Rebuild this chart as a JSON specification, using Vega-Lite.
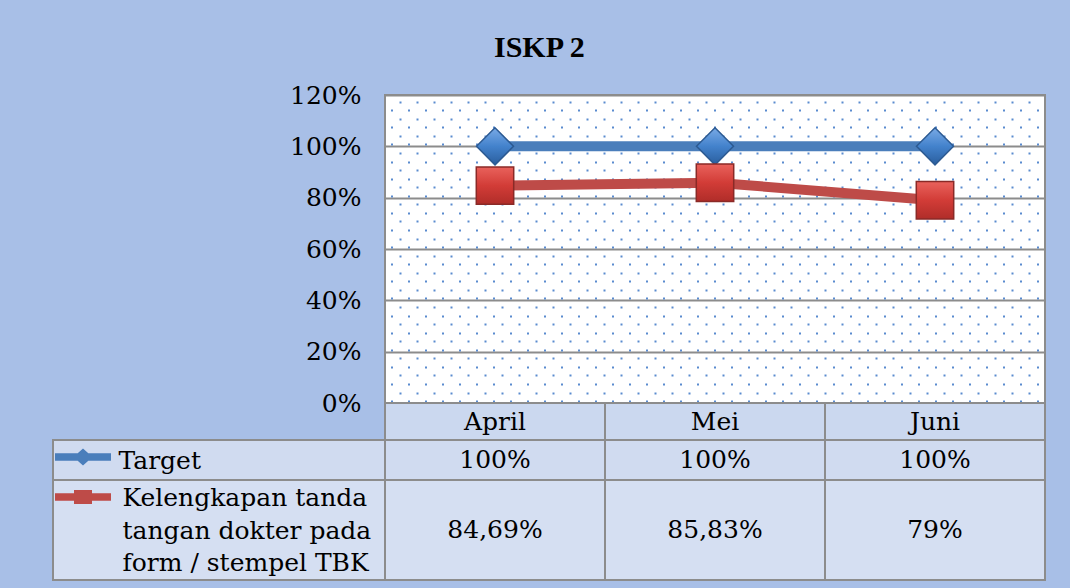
{
  "$schema": "https://vega.github.io/schema/vega-lite/v6.json",
  "background": "#A8BFE7",
  "padding": {"left": 52, "top": 33, "right": 24, "bottom": 8},
  "title": {"text": "ISKP 2", "anchor": "start", "frame": "group", "font": "Liberation Serif", "fontSize": 30, "fontWeight": "bold", "color": "#000000", "offset": 19, "dx": 441},
  "datasets": {
    "d": [
      {"month": "April", "series": "Target", "value": 1},
      {"month": "Mei", "series": "Target", "value": 1},
      {"month": "Juni", "series": "Target", "value": 1},
      {"month": "April", "series": "Kelengkapan tanda tangan dokter pada form / stempel TBK", "value": 0.8469},
      {"month": "Mei", "series": "Kelengkapan tanda tangan dokter pada form / stempel TBK", "value": 0.8583},
      {"month": "Juni", "series": "Kelengkapan tanda tangan dokter pada form / stempel TBK", "value": 0.79}
    ]
  },
  "columns": 2,
  "spacing": 0,
  "bounds": "flush",
  "concat": [
    {
      "width": 332, "height": 308,
      "view": {"stroke": null},
      "data": {"values": []},
      "mark": {"type": "text"},
      "encoding": {}
    },
    {
      "width": 660, "height": 308,
      "view": {"fill": "#FFFFFF", "stroke": "#8C8C8C", "strokeWidth": 2},
      "data": {"name": "d"},
      "encoding": {
        "x": {"field": "month", "type": "nominal", "sort": ["April", "Mei", "Juni"], "scale": {"type": "point", "padding": 0.5}, "axis": null}
      },
      "resolve": {"axis": {"y": "independent"}},
      "layer": [
        {
          "mark": {"type": "line", "strokeWidth": 10},
          "encoding": {
            "y": {"field": "value", "type": "quantitative", "scale": {"domain": [0, 1.2], "nice": false},
              "axis": {"values": [0, 0.2, 0.4, 0.6, 0.8, 1, 1.2], "format": ".0%", "title": null, "ticks": false, "domain": false, "grid": true, "gridColor": "#8C8C8C", "gridWidth": 2, "labelFont": "DejaVu Serif", "labelFontSize": 25, "labelColor": "#000000", "labelPadding": 24, "zindex": 0}},
            "color": {"field": "series", "type": "nominal",
              "scale": {"domain": ["Target", "Kelengkapan tanda tangan dokter pada form / stempel TBK"], "range": ["#4A7EBB", "#BE4B48"]},
              "legend": {"orient": "none", "legendX": 20, "legendY": 352, "title": null, "labelExpr": "''", "labelFontSize": 1, "symbolSize": 400, "rowPadding": 21, "padding": 0, "symbolStrokeWidth": 0, "symbolOffset": 0, "labelOffset": 0,
                "encode": {"symbols": {"update": {
                  "shape": {"signal": "datum.value === 'Target' ? 'M-2.8,-0.38L2.8,-0.38L2.8,0.38L-2.8,0.38Z M0,-0.85L0.95,0L0,0.85L-0.95,0Z' : 'M-2.8,-0.38L2.8,-0.38L2.8,0.38L-2.8,0.38Z M-0.9,-0.7L0.9,-0.7L0.9,0.7L-0.9,0.7Z'"},
                  "fill": {"scale": "color", "field": "value"},
                  "stroke": {"value": "transparent"},
                  "opacity": {"value": 1}
                }}}
              }}
          }
        },
        {
          "transform": [{"filter": "datum.series === 'Target'"}],
          "mark": {"type": "point", "shape": "diamond", "size": 1369, "filled": true, "opacity": 1,
            "fill": {"gradient": "linear", "x1": 0, "y1": 0, "x2": 0, "y2": 1, "stops": [{"offset": 0, "color": "#79AAE6"}, {"offset": 0.5, "color": "#4382CC"}, {"offset": 1, "color": "#2A5E9E"}]},
            "stroke": "#2C5A92", "strokeWidth": 1.5},
          "encoding": {
            "y": {"field": "value", "type": "quantitative",
              "axis": {"orient": "right", "title": null, "labels": false, "ticks": false, "domain": false, "grid": true, "zindex": 0,
                "values": [1.174, 1.1407, 1.1073, 1.074, 1.0407, 1.0073, 0.974, 0.9407, 0.9073, 0.874, 0.8407, 0.8073, 0.774, 0.7407, 0.7073, 0.674, 0.6407, 0.6073, 0.574, 0.5407, 0.5073, 0.474, 0.4407, 0.4073, 0.374, 0.3407, 0.3073, 0.274, 0.2407, 0.2073, 0.174, 0.1407, 0.1073, 0.074, 0.0407, 0.0073],
                "gridColor": "#5A8BCF", "gridWidth": 2, "gridDash": [2, 15],
                "gridDashOffset": {"condition": {"test": "round((1.174 - datum.value) * 30) % 2 === 0", "value": 2}, "value": 10.5}}}
          }
        },
        {
          "transform": [{"filter": "datum.series !== 'Target'"}],
          "mark": {"type": "point", "shape": "square", "size": 1400, "filled": true, "opacity": 1,
            "fill": {"gradient": "linear", "x1": 0, "y1": 0, "x2": 0, "y2": 1, "stops": [{"offset": 0, "color": "#E9625C"}, {"offset": 0.5, "color": "#D23C37"}, {"offset": 1, "color": "#B02D29"}]},
            "stroke": "#8A2A27", "strokeWidth": 1.5},
          "encoding": {
            "y": {"field": "value", "type": "quantitative", "axis": null}
          }
        }
      ]
    },
    {
      "width": 332, "height": 37,
      "view": {"stroke": null},
      "data": {"values": []},
      "mark": {"type": "text"},
      "encoding": {}
    },
    {
      "width": 660, "height": 37,
      "view": {"stroke": null, "fill": "#CBD8EF"},
      "data": {"name": "d"},
      "transform": [{"filter": "datum.series === 'Target'"}],
      "encoding": {
        "x": {"field": "month", "type": "nominal", "sort": ["April", "Mei", "Juni"], "scale": {"type": "band", "paddingInner": 0, "paddingOuter": 0}, "axis": null}
      },
      "layer": [
        {"mark": {"type": "rect", "fillOpacity": 0, "stroke": "#8C8C8C", "strokeWidth": 2}},
        {"mark": {"type": "text", "font": "DejaVu Serif", "fontSize": 25, "color": "#000000", "baseline": "middle"}, "encoding": {"text": {"field": "month"}}}
      ]
    },
    {
      "width": 332, "height": 40,
      "view": {"stroke": "#8C8C8C", "strokeWidth": 2, "fill": "#D0DBF0"},
      "data": {"values": []},
      "mark": {"type": "text"},
      "encoding": {}
    },
    {
      "width": 660, "height": 40,
      "view": {"stroke": null, "fill": "#D0DBF0"},
      "data": {"name": "d"},
      "transform": [{"filter": "datum.series === 'Target'"}],
      "encoding": {
        "x": {"field": "month", "type": "nominal", "sort": ["April", "Mei", "Juni"], "scale": {"type": "band", "paddingInner": 0, "paddingOuter": 0}, "axis": null}
      },
      "layer": [
        {"mark": {"type": "rect", "fillOpacity": 0, "stroke": "#8C8C8C", "strokeWidth": 2}},
        {"mark": {"type": "text", "font": "DejaVu Serif", "fontSize": 25, "color": "#000000", "baseline": "middle"},
          "encoding": {
            "text": {"field": "value", "type": "quantitative", "format": ".2~%"},
            "y": {"field": "series", "type": "nominal", "axis": {"title": null, "ticks": false, "domain": false, "grid": false, "labelAlign": "left", "labelPadding": 267, "labelFont": "DejaVu Serif", "labelFontSize": 25, "labelColor": "#000000", "labelLimit": 0}}
          }}
      ]
    },
    {
      "width": 332, "height": 100,
      "view": {"stroke": "#8C8C8C", "strokeWidth": 2, "fill": "#D5DFF2"},
      "data": {"values": []},
      "mark": {"type": "text"},
      "encoding": {}
    },
    {
      "width": 660, "height": 100,
      "view": {"stroke": null, "fill": "#D5DFF2"},
      "data": {"name": "d"},
      "transform": [{"filter": "datum.series !== 'Target'"}],
      "encoding": {
        "x": {"field": "month", "type": "nominal", "sort": ["April", "Mei", "Juni"], "scale": {"type": "band", "paddingInner": 0, "paddingOuter": 0}, "axis": null}
      },
      "layer": [
        {"mark": {"type": "rect", "fillOpacity": 0, "stroke": "#8C8C8C", "strokeWidth": 2}},
        {"mark": {"type": "text", "font": "DejaVu Serif", "fontSize": 25, "color": "#000000", "baseline": "middle"},
          "encoding": {
            "text": {"field": "value", "type": "quantitative", "format": ".2~%"},
            "y": {"field": "series", "type": "nominal", "axis": {"title": null, "ticks": false, "domain": false, "grid": false, "labelAlign": "left", "labelPadding": 263, "labelFont": "DejaVu Serif", "labelFontSize": 25, "labelColor": "#000000", "labelLimit": 0, "labelLineHeight": 32.5, "labelOffset": -32.5,
              "labelExpr": "['Kelengkapan tanda', 'tangan dokter pada', 'form / stempel TBK']"}}
          }}
      ]
    }
  ],
  "config": {
    "view": {"stroke": "#8C8C8C", "strokeWidth": 2},
    "font": "DejaVu Serif",
    "locale": {"number": {"decimal": ",", "thousands": ".", "grouping": [3], "currency": ["", ""]}}
  }
}
